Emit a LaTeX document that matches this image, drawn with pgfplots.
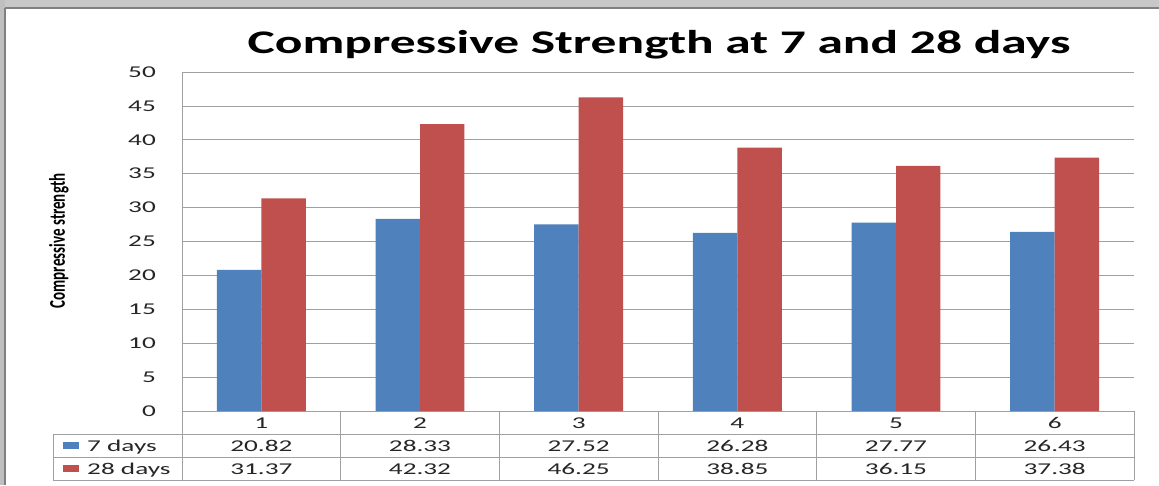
\documentclass[border=0pt]{standalone}
\usepackage{graphicx}
\usepackage{pgfplots}
\pgfplotsset{compat=1.18}
\usepackage{fontspec}
\setmainfont{Carlito}
\newfontfamily\widefont[FakeStretch=1.65]{Carlito}
\newfontfamily\titlefont[FakeStretch=1.56]{Carlito}
\definecolor{exblue}{HTML}{4F81BD}
\definecolor{exred}{HTML}{C0504D}
\definecolor{gridgray}{HTML}{A0A0A0}
\newcommand{\tfont}{\widefont\fontsize{16.5}{18}\selectfont}

\pgfplotstableread{
x  d7     d28
0  20.82  31.37
1  28.33  42.32
2  27.52  46.25
3  26.28  38.85
4  27.77  36.15
5  26.43  37.38
}\strengthdata

\begin{document}
\begin{tikzpicture}[x=1pt,y=1pt]
\path[use as bounding box] (0,0) rectangle (1159,485);
\fill[white] (0,0) rectangle (1159,485);
% window frame
\fill[black!22] (0,476) rectangle (1159,485);
\draw[black!50, line width=1.5pt] (0,477) -- (1159,477);
\fill[black!25] (0,0) rectangle (5,485);
\draw[black!50, line width=1.2pt] (5,0) -- (5,477);

\begin{axis}[
  at={(182pt,74pt)}, anchor=south west,
  scale only axis, width=952pt, height=339pt,
  xmin=-0.5, xmax=5.5, ymin=0, ymax=50,
  ytick={0,5,...,50},
  xtick={0,...,5}, xticklabels={1,2,3,4,5,6},
  ymajorgrids, grid style={gridgray, line width=0.8pt},
  axis x line*=bottom, axis y line*=left,
  axis line style={gridgray, line width=0.8pt, -},
  major tick length=0pt,
  tick label style={font=\tfont, text=black!85},
  yticklabel style={anchor=east, inner sep=0pt, xshift=-26pt},
  xticklabel style={anchor=base, inner sep=0pt, yshift=-17pt},
  /pgf/number format/assume math mode=true,
  clip=false,
]
\addplot[ybar, bar width=0.28, bar shift=-0.14, fill=exblue, draw=none] table[x=x, y=d7] {\strengthdata};
\addplot[ybar, bar width=0.28, bar shift=0.14, fill=exred, draw=none] table[x=x, y=d28] {\strengthdata};
\end{axis}

% data table grid
\begin{scope}[gridgray, line width=0.8pt]
\draw (182,74) -- (182,5);
\foreach \k in {1,...,6} \draw ({182+\k*158.667},74) -- ({182+\k*158.667},5);
\draw (53,51) -- (53,5);
\foreach \yy in {51,28,5} \draw (53,\yy) -- (1134,\yy);
\end{scope}

% table rows
\foreach \v [count=\i from 0] in {20.82,28.33,27.52,26.28,27.77,26.43}
  \node[anchor=base, inner sep=0pt, text=black!85, font=\tfont] at ({182+(\i+0.5)*158.667},34) {\v};
\foreach \v [count=\i from 0] in {31.37,42.32,46.25,38.85,36.15,37.38}
  \node[anchor=base, inner sep=0pt, text=black!85, font=\tfont] at ({182+(\i+0.5)*158.667},11) {\v};

% legend keys
\fill[exblue] (63,36) rectangle (79,43);
\node[anchor=base west, inner sep=0pt, text=black!85, font=\tfont] at (87,34) {7 days};
\fill[exred] (63,13) rectangle (79,20);
\node[anchor=base west, inner sep=0pt, text=black!85, font=\tfont] at (87,11) {28 days};

% title
\node[anchor=base, inner sep=0pt] at (659,431) {\titlefont\bfseries\fontsize{33}{36}\selectfont Compressive Strength at 7 and 28 days};

% y label
\node[rotate=90, anchor=center, inner sep=0pt] at (59,244) {\scalebox{1}[1.5]{\bfseries\fontsize{15}{16}\selectfont Compressive strength}};
\end{tikzpicture}
\end{document}
